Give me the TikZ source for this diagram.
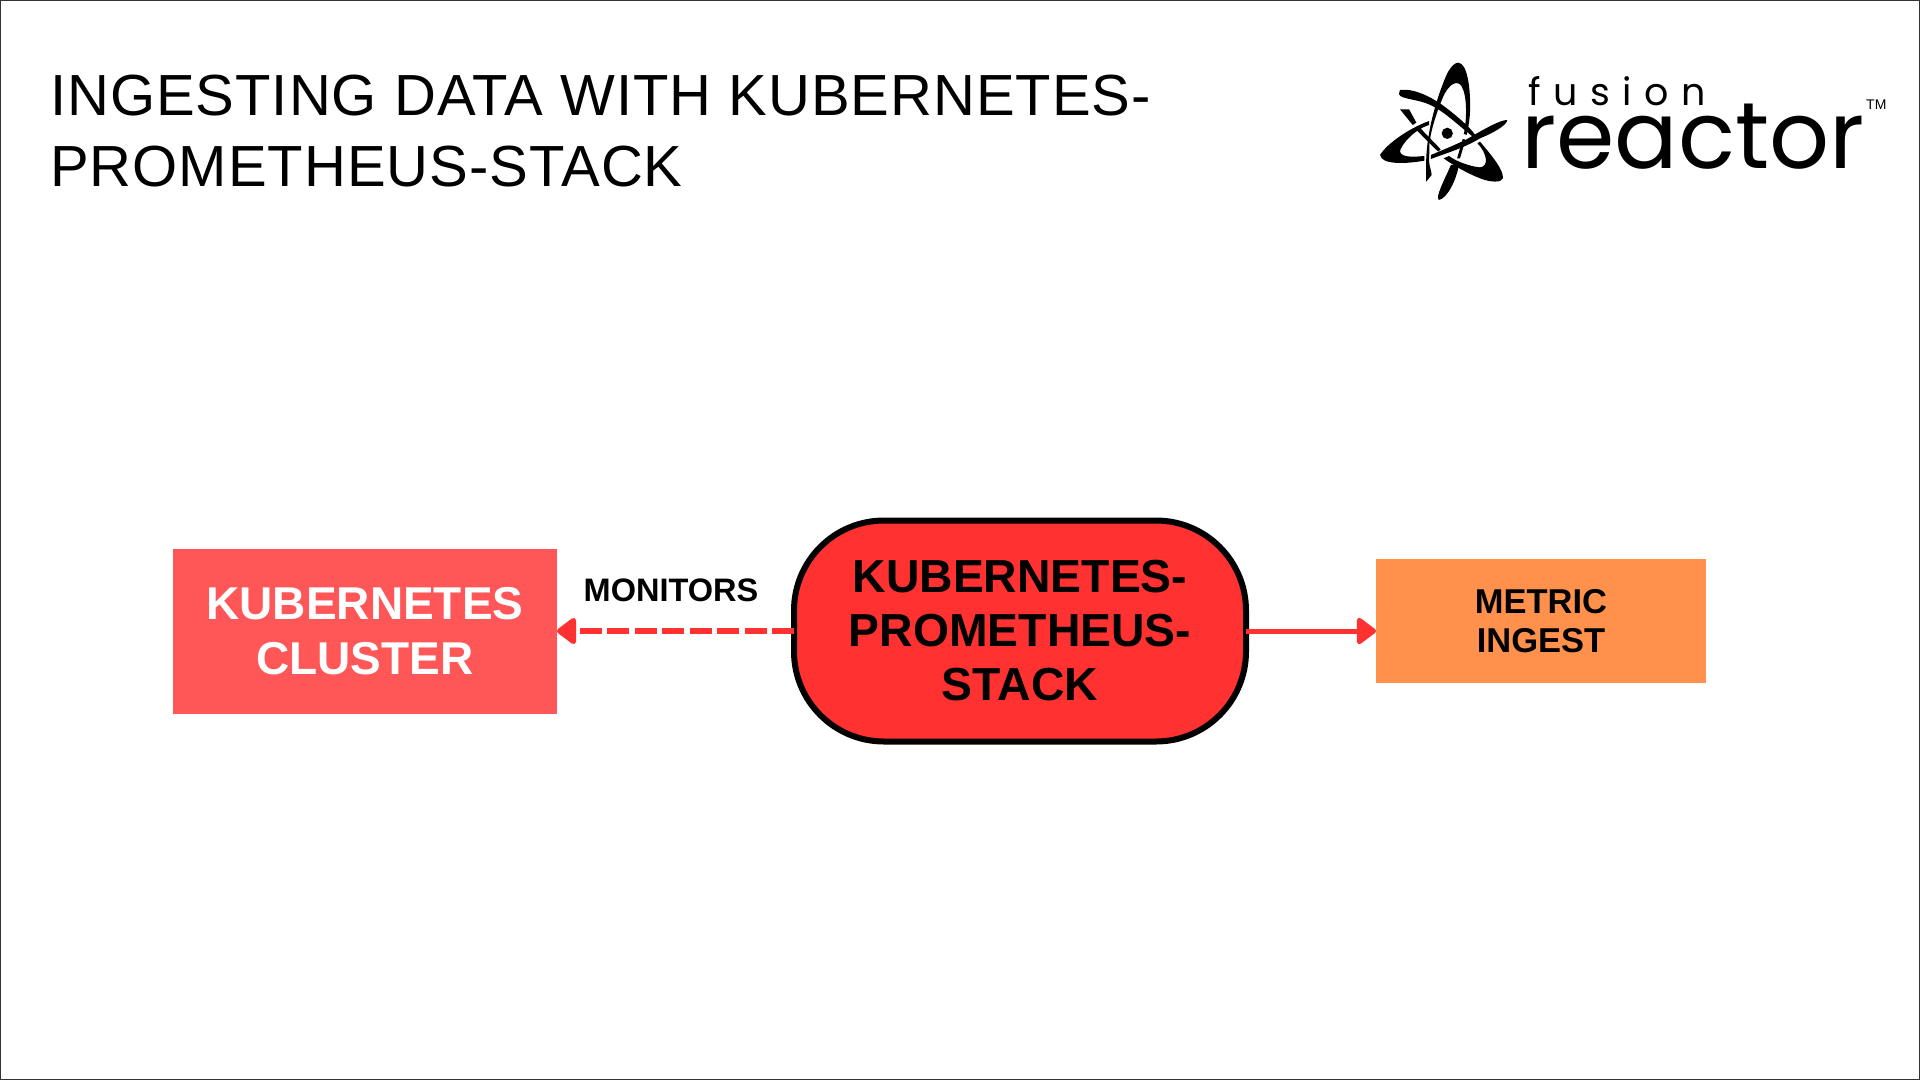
\documentclass[tikz,border=0pt]{standalone}
\usepackage{fontspec}
\setmainfont{Liberation Sans}
\newfontfamily\titlefont[LetterSpace=1.7]{Liberation Sans}
\newfontfamily\logofont{Poppins}
\newfontfamily\logospaced[LetterSpace=33]{Poppins}
\usetikzlibrary{arrows.meta}
\definecolor{redbox}{HTML}{FF5757}
\definecolor{pillred}{HTML}{FF3131}
\definecolor{orangebox}{HTML}{FF914D}
\definecolor{framecol}{HTML}{333333}
\tikzset{
  block/.style={inner sep=0pt,outer sep=0pt,align=center,font=\bfseries},
  link/.style={draw=pillred,line width=5pt,-{Triangle[length=21pt,width=30pt,round]}},
  logoink/.style={fill=black,draw=none}
}
\begin{document}
\begin{tikzpicture}[x=1pt,y=-1pt]
\useasboundingbox (0,0) rectangle (1920,1080);
\draw[framecol,line width=1.3pt] (0.7,0.7) rectangle (1919.3,1079.3);

\node[anchor=west,inner sep=0pt,align=left,font=\titlefont\fontsize{58}{71}\selectfont] (title) at (50,131)
  {INGESTING DATA WITH KUBERNETES-\\PROMETHEUS-STACK};

\node[block,fill=redbox,text=white,minimum width=384pt,minimum height=165pt,font=\bfseries\fontsize{46}{55}\selectfont] (cluster) at (365,631)
  {KUBERNETES\\CLUSTER};
\node[block,fill=pillred,draw=black,line width=6pt,rounded corners=90pt,minimum width=452pt,minimum height=221pt,font=\bfseries\fontsize{46.3}{54}\selectfont] (stack) at (1020,631)
  {KUBERNETES-\\PROMETHEUS-\\STACK};
\node[block,fill=orangebox,minimum width=330pt,minimum height=124pt,font=\bfseries\fontsize{34.5}{39}\selectfont] (ingest) at (1541,621)
  {METRIC\\INGEST};
\node[inner sep=0pt,font=\bfseries\fontsize{32.5}{36}\selectfont] (monitors) at (671,590) {MONITORS};

\draw[link,line width=6pt,dash pattern=on 22pt off 5.5pt] (stack.west) -- (cluster.east);
\draw[link,line width=5pt] (stack.east) -- (stack.east -| ingest.west);

% logo
\begin{scope}[shift={(1340,30)},x=0.3636pt,y=-0.3333pt]
  \fill[logoink] (325,98) .. controls (350,100) and (358,170) .. (358,230) .. controls (358,270) and (350,310) .. (345,330) -- (330,385) -- (322,385) -- (338,325) .. controls (350,270) and (350,200) .. (335,170) .. controls (325,150) and (300,155) .. (280,210) .. controls (265,250) and (250,300) .. (246,340) -- (245,395) .. controls (246,410) and (252,425) .. (252,435) -- (237,455) -- (237,395) .. controls (238,300) and (270,190) .. (295,130) .. controls (305,110) and (315,98) .. (325,98) -- cycle;
  \fill[logoink] (305,405) -- (327,405) .. controls (320,450) and (295,505) .. (272,510) .. controls (262,500) and (285,455) .. (305,405) -- cycle;
  \fill[white] (252,205) -- (290,232) -- (282,245) -- (245,218) -- cycle;
  \fill[logoink] (165,180) .. controls (200,175) and (240,195) .. (275,220) .. controls (320,255) and (360,295) .. (372,315) -- (365,320) .. controls (320,280) and (290,250) .. (265,235) .. controls (225,205) and (165,210) .. (162,192) -- cycle;
  \fill[white] (340,312) -- (395,330) -- (385,345) -- (335,325) -- cycle;
  \fill[logoink] (385,335) .. controls (420,380) and (450,420) .. (448,445) .. controls (445,458) and (415,458) .. (385,445) .. controls (350,430) and (310,405) .. (285,385) -- (300,378) .. controls (320,395) and (360,410) .. (385,412) .. controls (410,410) and (405,370) .. (378,340) -- cycle;
  \fill[logoink] (277,358) -- (270,365) -- (205,295) -- (215,288) -- cycle;
  \fill[logoink] (165,238) -- (190,238) -- (210,278) -- (200,285) -- cycle;
  \fill[logoink] (110,375) .. controls (130,340) and (190,295) .. (245,273) -- (245,285) .. controls (200,300) and (165,350) .. (165,365) .. controls (170,385) and (210,380) .. (232,378) -- (232,392) .. controls (180,402) and (115,405) .. (110,375) -- cycle;
  \fill[logoink] (250,375) -- (300,352) -- (345,330) .. controls (400,295) and (440,270) .. (460,270) .. controls (460,285) and (420,310) .. (385,325) .. controls (340,355) and (290,370) .. (250,387) -- cycle;
  \coordinate (atomcore) at (295,310);
\end{scope}
\fill[logoink] (atomcore) circle [radius=5.6pt];
\node[anchor=base west,inner sep=0pt,font=\logospaced\fontsize{38}{38}\selectfont] (fusion) at (1528,105) {fusion};
\node[anchor=base west,inner sep=0pt,font=\logofont\fontsize{94}{94}\selectfont] (reactor) at (1521,168) {reactor};
\node[anchor=base west,inner sep=0pt,font=\fontsize{14}{14}\selectfont] (tm) at (1866,109) {TM};
\end{tikzpicture}
\end{document}
